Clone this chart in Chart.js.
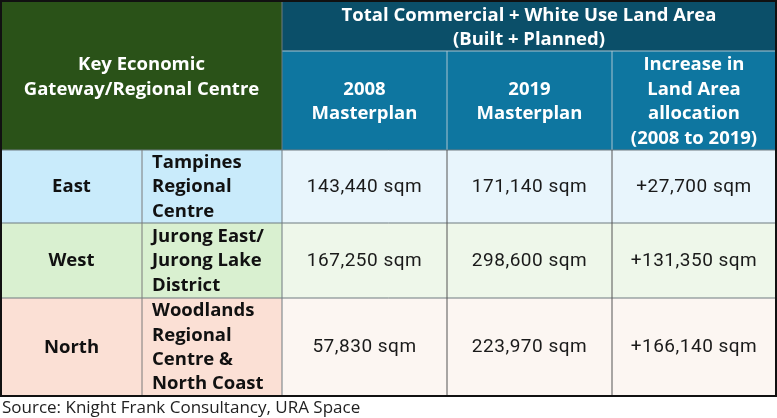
<!DOCTYPE html>
<html>
<head>
<meta charset="utf-8">
<script src="https://cdn.jsdelivr.net/npm/chart.js@4.4.1/dist/chart.umd.min.js"></script>
<style>
  html, body { margin: 0; padding: 0; background: #fff; }
  #wrap { width: 777px; height: 418px; position: relative; }
</style>
</head>
<body>
<div id="wrap"><canvas id="tableChart"></canvas></div>
<script>
// table content
const regions = ['East', 'West', 'North'];
const centres = [
    ['Tampines', 'Regional', 'Centre'],
    ['Jurong East/', 'Jurong Lake', 'District'],
    ['Woodlands', 'Regional', 'Centre &', 'North Coast']
];
const plan2008 = [143440, 167250, 57830];
const plan2019 = [171140, 298600, 223970];
const increase = [27700, 131350, 166140];
const leftHeader = ['Key Economic', 'Gateway/Regional Centre'];
const groupHeader = ['Total Commercial + White Use Land Area', '(Built + Planned)'];
const colHeaders = [
    ['2008', 'Masterplan'],
    ['2019', 'Masterplan'],
    ['Increase in', 'Land Area', 'allocation', '(2008 to 2019)']
];
const sourceNote = 'Source: Knight Frank Consultancy, URA Space';

// layout (in scale units, 1 unit = 1 px of the 777x418 frame)
const colEdges = [1, 142, 282, 447, 612, 776];
const headSplit = 51;
const rowEdges = [150, 223, 298, 396];
const labelFill = ['#c9ebfb', '#d9f0d0', '#fbe0d5'];
const dataFill = ['#e8f5fc', '#eef7ea', '#fcf6f2'];

const fmt = v => v.toLocaleString('en-US') + ' sqm';

const tablePlugin = {
    id: 'tablePlugin',
    afterDraw(chart) {
        const ctx = chart.ctx;
        const xs = chart.scales.x, ys = chart.scales.y;
        const px = v => xs.getPixelForValue(v);
        const py = v => ys.getPixelForValue(v);
        const rect = (x0, y0, x1, y1, fill) => {
            ctx.fillStyle = fill;
            ctx.fillRect(px(x0), py(y0), px(x1) - px(x0), py(y1) - py(y0));
        };
        const lines = (arr, x, yc, step, font, color, align, spacing) => {
            ctx.font = font;
            ctx.fillStyle = color;
            ctx.textAlign = align || 'center';
            ctx.textBaseline = 'middle';
            ctx.letterSpacing = spacing || '0px';
            const top = yc - (arr.length - 1) * step / 2;
            arr.forEach((t, i) => ctx.fillText(t, px(x), py(top + i * step)));
            ctx.letterSpacing = '0px';
        };
        const line = (x0, y0, x1, y1, color, w) => {
            ctx.strokeStyle = color;
            ctx.lineWidth = w;
            ctx.beginPath();
            ctx.moveTo(px(x0), py(y0));
            ctx.lineTo(px(x1), py(y1));
            ctx.stroke();
        };
        const bold = 'bold 18.5px "Open Sans", sans-serif';
        const reg = '19px Roboto, sans-serif';

        ctx.save();
        // header backgrounds
        rect(colEdges[0], 1, colEdges[2], rowEdges[0], '#2a5218');
        rect(colEdges[2], 1, colEdges[5], headSplit, '#0b4f69');
        rect(colEdges[2], headSplit, colEdges[5], rowEdges[0], '#0e76a0');

        // body backgrounds
        regions.forEach((r, i) => {
            rect(colEdges[0], rowEdges[i], colEdges[2], rowEdges[i + 1], labelFill[i]);
            rect(colEdges[2], rowEdges[i], colEdges[5], rowEdges[i + 1], dataFill[i]);
        });

        // grid lines
        line(colEdges[2], headSplit, colEdges[5], headSplit, '#a9c4d0', 1);
        [3, 4].forEach(c => line(colEdges[c], headSplit, colEdges[c], rowEdges[0], '#a9c4d0', 1));
        line(colEdges[2], 1, colEdges[2], rowEdges[3], '#6f7a80', 1);
        rowEdges.slice(0, 3).forEach(y => line(colEdges[0], y, colEdges[5], y, '#6f7a80', 1));
        line(colEdges[1], rowEdges[0], colEdges[1], rowEdges[3], '#7a7a7a', 1);
        [3, 4].forEach(c => line(colEdges[c], rowEdges[0], colEdges[c], rowEdges[3], '#555', 1));
        // outer border
        ctx.strokeStyle = '#111';
        ctx.lineWidth = 2;
        ctx.strokeRect(px(colEdges[0]), py(1), px(colEdges[5]) - px(colEdges[0]), py(rowEdges[3]) - py(1));

        // header text
        lines(leftHeader, (colEdges[0] + colEdges[2]) / 2, 77, 25, bold, '#fff');
        lines(groupHeader, (colEdges[2] + colEdges[5]) / 2, 27.5, 24, bold, '#fff');
        colHeaders.forEach((h, c) => {
            lines(h, (colEdges[c + 2] + colEdges[c + 3]) / 2, 101.5, 24.5, bold, '#fff');
        });

        // body text
        regions.forEach((r, i) => {
            const yc = (rowEdges[i] + rowEdges[i + 1]) / 2 + 0.5;
            lines([r], (colEdges[0] + colEdges[1]) / 2, yc, 24, bold, '#111');
            lines(centres[i], colEdges[1] + 10, yc, 24.4, bold, '#111', 'left');
            lines([fmt(plan2008[i])], (colEdges[2] + colEdges[3]) / 2, yc, 24, reg, '#1a1a1a', 'center', '0.5px');
            lines([fmt(plan2019[i])], (colEdges[3] + colEdges[4]) / 2, yc, 24, reg, '#1a1a1a', 'center', '0.5px');
            lines(['+' + fmt(increase[i])], (colEdges[4] + colEdges[5]) / 2, yc, 24, reg, '#1a1a1a', 'center', '0.5px');
        });

        // source line
        lines([sourceNote], 2, 408, 20, '17px "Open Sans", sans-serif', '#222', 'left');
        ctx.restore();
    }
};

new Chart(document.getElementById('tableChart').getContext('2d'), {
    type: 'scatter',
    data: { datasets: [] },
    options: {
        responsive: true,
        maintainAspectRatio: false,
        animation: false,
        layout: { padding: 0 },
        plugins: { legend: { display: false }, tooltip: { enabled: false } },
        scales: {
            x: { type: 'linear', min: 0, max: 777, display: false },
            y: { type: 'linear', min: 0, max: 418, reverse: true, display: false }
        }
    },
    plugins: [tablePlugin]
});
</script>
</body>
</html>
